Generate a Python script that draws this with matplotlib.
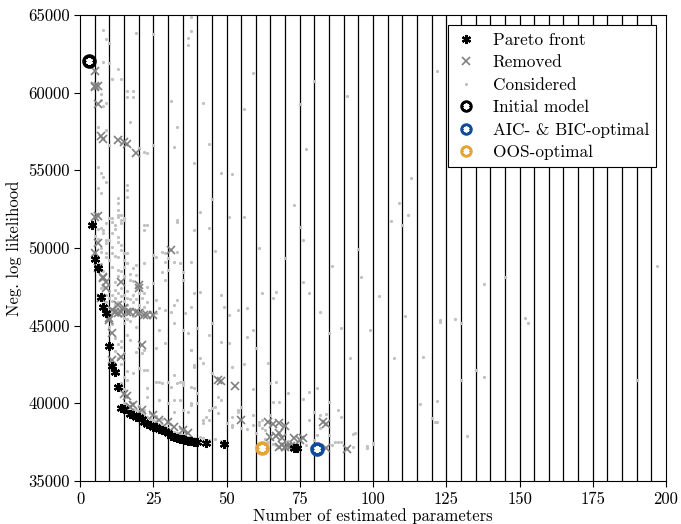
import matplotlib
matplotlib.use("Agg")
import matplotlib.pyplot as plt
from matplotlib.lines import Line2D
from matplotlib.legend_handler import HandlerTuple

plt.rcParams.update({
    'font.family': 'serif',
    'font.serif': ['cmr10'],
    'mathtext.fontset': 'cm',
    'axes.formatter.use_mathtext': True,
    'font.size': 12,
})

# ---------------- data ----------------
pareto = [(4, 51500), (5, 49300), (6, 48700), (7, 46850), (8, 46200), (9, 45800),
          (10, 43700), (11, 42400), (12, 42000), (13, 41050), (14, 39700), (15, 39650),
          (17, 39300), (18, 39250), (19, 39150), (20, 39100), (21, 39000), (22, 38800),
          (23, 38700), (24, 38600), (25, 38500), (26, 38450), (27, 38350), (28, 38300),
          (29, 38200), (30, 38100), (31, 37900), (32, 37800), (33, 37750), (34, 37700),
          (35, 37700), (36, 37650), (37, 37600), (38, 37550), (39, 37500), (40, 37500),
          (43, 37450), (49, 37400), (73, 37150), (74, 37150)]

removed = [(5, 61400), (5, 60400), (5, 60350), (6, 60400), (6, 59300), (7, 57200),
           (8, 57000), (13, 56950), (15, 56800), (16, 56700), (19, 56100), (6, 52050),
           (5, 52000), (6, 50300), (5, 49700), (31, 49870), (14, 47800), (20, 47600),
           (20, 47400), (8, 48070), (9, 47400), (6, 48700), (8, 48100), (10, 45370),
           (11, 44500), (15, 46140), (20, 45800), (22, 45700), (25, 45700), (7, 46800),
           (11, 46000), (14, 45900), (16, 45900), (19, 45850), (23, 45700), (21, 43750),
           (14, 43000), (11, 42800), (15, 40600), (16, 40500), (18, 39900), (21, 39600),
           (25, 39250), (27, 38950), (30, 38800), (32, 38500), (35, 38300), (37, 38100),
           (17, 39750), (47, 41500), (48, 41450), (53, 41100), (55, 38930), (64, 38800),
           (66, 38700), (68, 38740), (70, 38540), (65, 37830), (67, 37900), (69, 37770),
           (68, 37190), (70, 37190), (71, 37250), (69, 37320), (72, 37250), (73, 37770),
           (75, 37640), (76, 37770), (83, 38800), (84, 38700), (84, 37120), (91, 37060),
           (68, 38100), (12, 45900), (13, 45800), (17, 45900), (9, 47800), (10, 45500),
           (13, 46300)]

considered = [
    (8, 64040), (9, 63460), (10, 63200), (19, 63840), (25, 63780), (38, 64870), (37, 63520),
    (38, 63970), (37, 63070), (8, 61970), (10, 61910), (13, 61520), (11, 60880), (14, 60880),
    (16, 60110), (18, 60110), (16, 59720), (18, 59720), (7, 59910), (7, 59530), (8, 59140),
    (9, 59330), (31, 59460), (42, 59340), (59, 61270), (80, 60750), (56, 58950), (17, 58110),
    (6, 57790), (9, 57600), (10, 56630), (20, 56440), (23, 56120), (25, 56630), (22, 56180),
    (33, 57790), (32, 56500), (44, 56700), (39, 55470), (48, 54830), (52, 54760), (77, 56370),
    (75, 59270), (91, 59790), (6, 55220), (7, 54830), (8, 54570), (9, 54250), (6, 53860),
    (7, 53540), (16, 54060), (16, 53730), (16, 53280), (13, 53220), (13, 52900), (13, 52450),
    (10, 51930), (11, 51930), (13, 52000), (15, 51930), (11, 51670), (14, 51610), (8, 51160),
    (12, 51220), (15, 51800), (23, 51480), (22, 51160), (22, 51480), (33, 51670), (39, 51160),
    (41, 52320), (45, 53160), (44, 51290), (51, 52000), (56, 52000), (73, 52770), (75, 51350),
    (76, 50520), (70, 49360), (61, 50000), (46, 49810), (26, 49420), (29, 49680), (30, 49360),
    (33, 49740), (34, 49030), (16, 49680), (16, 49030), (19, 48910), (22, 49030), (14, 50190),
    (13, 49420), (11, 49680), (9, 50520), (9, 49680), (122, 61400), (113, 54510), (109, 52900),
    (112, 52130), (106, 51740), (110, 51480), (95, 49940), (86, 48840), (197, 48840),
    (96, 48130), (145, 48130), (138, 47680), (102, 46910), (111, 45620), (128, 45430),
    (123, 45240), (123, 45370), (130, 45170), (152, 45490), (153, 45170), (89, 44850),
    (99, 44720), (92, 42920), (107, 42920), (117, 42980), (135, 42150), (138, 41700),
    (130, 41500), (190, 41500), (116, 39960), (122, 40150), (88, 39570), (120, 39060),
    (121, 38800), (122, 38800), (132, 37900), (93, 38030), (94, 38090), (87, 37510),
    (88, 37510), (89, 37510), (98, 37250), (98, 37120), (100, 37380), (100, 37450),
    (93, 37190), (41, 47170), (39, 47100), (48, 46970), (54, 46010), (57, 46140), (62, 47100),
    (66, 46780), (67, 47170), (78, 47100), (82, 45880), (85, 44530), (76, 47810), (51, 45690),
    (49, 46200), (51, 43880), (45, 45170), (35, 44720), (32, 45170), (27, 44720), (29, 43880),
    (22, 43430), (26, 43560), (23, 42150), (26, 41370), (30, 41370), (31, 41050), (27, 40210),
    (34, 41370), (35, 41180), (40, 40670), (39, 42340), (38, 43430), (41, 42920), (42, 42600),
    (45, 41950), (47, 40410), (45, 39700), (47, 39380), (50, 38730), (52, 38610), (55, 38410),
    (52, 39120), (59, 38610), (59, 39250), (61, 38610), (62, 38930), (63, 38280), (67, 41370),
    (71, 40670), (76, 40280), (78, 40730), (78, 38930), (81, 40990), (82, 39250), (84, 39310),
    (89, 39120), (91, 37120), (55, 39760), (54, 39570), (60, 43560), (57, 44270), (59, 44720),
    (52, 42340), (48, 43950), (64, 42600), (38, 40020), (37, 39440), (43, 39120), (42, 38730),
    (34, 40210),
    (13, 52130), (14, 52130), (14, 51800), (12, 51480), (9, 51610), (7, 51290), (8, 50970),
    (11, 50970), (13, 50710), (10, 50520), (13, 50390), (9, 50320), (11, 50070), (14, 49870),
    (15, 49680), (7, 50000), (7, 49740), (9, 49420), (15, 49230), (16, 49030), (15, 48780),
    (13, 48590), (18, 48710), (19, 48260), (17, 47940), (25, 49550), (29, 49100), (30, 48590),
    (28, 48450), (32, 49100), (28, 49740), (33, 51800), (38, 49100), (35, 48450), (35, 47940),
    (29, 47940), (25, 47750), (23, 47490), (22, 47100), (26, 46650), (23, 46520), (27, 46140),
    (29, 46010), (31, 45880), (33, 46650), (32, 46330), (36, 45820), (38, 46200),
    (10, 47200), (11, 47000), (11, 46600), (12, 46800), (12, 46400), (13, 47100), (13, 46500),
    (14, 46900), (14, 46200), (15, 47000), (15, 46600), (16, 46800), (16, 46300), (17, 46700),
    (17, 46100), (18, 46500), (12, 46000), (13, 45700), (14, 45600), (15, 45500), (16, 45400),
    (17, 45300), (18, 45600), (10, 46800), (11, 45800), (12, 47300), (14, 47400), (16, 47200),
    (18, 47000), (19, 46700), (20, 46300), (21, 46000), (22, 46200), (24, 45900), (26, 45800),
    (10, 46000), (9, 46500), (9, 47000), (8, 47500), (8, 48500), (7, 48000), (7, 49000),
    (6, 50600), (6, 51200), (5, 50800), (6, 49000), (7, 47400), (12, 47800), (13, 48200),
    (14, 48500), (15, 48200), (11, 48800), (10, 49200), (12, 49500), (17, 48300), (18, 47900),
    (19, 47500), (20, 47100), (21, 46800),
    (12, 44200), (13, 43800), (12, 43400), (13, 42900), (14, 42500), (13, 41900), (14, 41300),
    (15, 40900), (16, 40400), (17, 40100), (15, 41700), (16, 42100), (14, 44000), (10, 44900),
    (11, 45100), (15, 45170), (19, 44910), (16, 44400), (17, 44080), (14, 43630), (15, 43240),
    (19, 43300), (21, 43240), (22, 42150), (20, 42280), (18, 41950), (16, 41500), (23, 40990),
    (23, 40410), (27, 41370), (28, 41310), (32, 41820), (33, 41310), (35, 41370), (32, 40210),
    (30, 40020), (32, 39440), (35, 39570), (38, 39890), (40, 40020), (38, 41050), (39, 40990),
    (38, 43430), (39, 42470), (37, 44530), (40, 44850), (44, 44400), (42, 38930), (44, 38930),
    (44, 39570), (46, 39760), (48, 40210),
    (15, 40050), (16, 39900), (17, 39800), (18, 39650), (19, 39550), (20, 39500), (21, 39350),
    (22, 39250), (23, 39100), (24, 39000), (25, 38900), (26, 38850), (27, 38700), (28, 38600),
    (29, 38500), (30, 38400), (31, 38300), (32, 38150), (33, 38100), (34, 38000), (35, 37950),
    (36, 37900), (37, 37850), (38, 37800), (39, 37750), (40, 37700), (20, 39800), (22, 39600),
    (24, 39400), (26, 39200), (28, 39000), (30, 38750), (18, 40000), (34, 38400), (36, 38200),
    (41, 37800), (42, 37750), (44, 37650), (46, 37700), (48, 37600),
    (60, 38090), (62, 38410), (61, 38800), (52, 38480), (54, 39440), (57, 38350), (65, 39250),
    (66, 40090), (68, 40090), (80, 39440), (85, 40090), (56, 42530), (65, 41310), (59, 40920),
    (80, 37640), (81, 37960), (82, 38410), (85, 37960), (63, 37700), (64, 37500), (66, 37400),
    (67, 37300), (71, 37600), (72, 37400), (74, 37350), (77, 37300), (79, 37200), (83, 37150),
    (86, 37300),
]

initial_model = (3, 62050)
aic_bic_optimal = (81, 37050)
oos_optimal = (62, 37150)

x_ticks = [0, 25, 50, 75, 100, 125, 150, 175, 200]
y_ticks = [35000, 40000, 45000, 50000, 55000, 60000, 65000]
grid_x = list(range(5, 200, 5))

labels = ['Pareto front', 'Removed', 'Considered', 'Initial model',
          'AIC- & BIC-optimal', 'OOS-optimal']

# ---------------- plot ----------------
fig = plt.figure(figsize=(6.81, 5.24), dpi=100)
ax = fig.add_axes([0.1175, 0.0821, 0.8605, 0.8893])

for gx in grid_x:
    ax.axvline(gx, color='black', lw=0.9, zorder=0.5)

ast = (6, 2, 0)
cx, cy = zip(*considered)
h_cons, = ax.plot(cx, cy, ls='none', marker='o', ms=2.3, mew=0, color='#c0c0c0', zorder=1)
rx, ry = zip(*removed)
h_rem, = ax.plot(rx, ry, ls='none', marker='x', ms=5.5, mew=1.2, color='#808080', zorder=2)
px, py = zip(*pareto)
h_par, = ax.plot(px, py, ls='none', marker=ast, ms=6.5, mew=1.6, color='black', zorder=3)

special = [(initial_model, 'black'), (aic_bic_optimal, '#0f4c9c'), (oos_optimal, '#e3a535')]
for (sx, sy), col in special:
    ax.plot([sx], [sy], ls='none', marker='o', ms=10.5, mew=0, color=col, zorder=4)
    ax.plot([sx], [sy], ls='none', marker=ast, ms=5, mew=1.5, color='white', zorder=5)

# legend versions of the special markers
leg_special = []
for (sx, sy), col in special:
    l1 = Line2D([], [], ls='none', marker='o', ms=9, mew=0, color=col)
    l2 = Line2D([], [], ls='none', marker=ast, ms=4.3, mew=1.3, color='white')
    leg_special.append((l1, l2))

ax.set_xlim(0, 200)
ax.set_ylim(35000, 65000)
ax.set_xticks(x_ticks)
ax.set_yticks(y_ticks)
ax.set_xticklabels([str(t) for t in x_ticks])
ax.set_yticklabels([str(t) for t in y_ticks])
ax.tick_params(direction='out', length=4, width=0.8, labelsize=12)
ax.set_xlabel('Number of estimated parameters', fontsize=12, labelpad=1)
ax.set_ylabel('Neg. log likelihood', fontsize=12)

handles = [h_par, h_rem, h_cons] + leg_special
leg = ax.legend(handles, labels, loc='upper right', fancybox=False, framealpha=1,
                edgecolor='black', handlelength=1.3, handletextpad=0.9, fontsize=12.4,
                labelspacing=0.42, borderaxespad=0.6,
                handler_map={tuple: HandlerTuple(ndivide=1, pad=0)})
leg.get_frame().set_linewidth(0.8)
leg.set_zorder(10)

fig.savefig('out.png', dpi=100)
